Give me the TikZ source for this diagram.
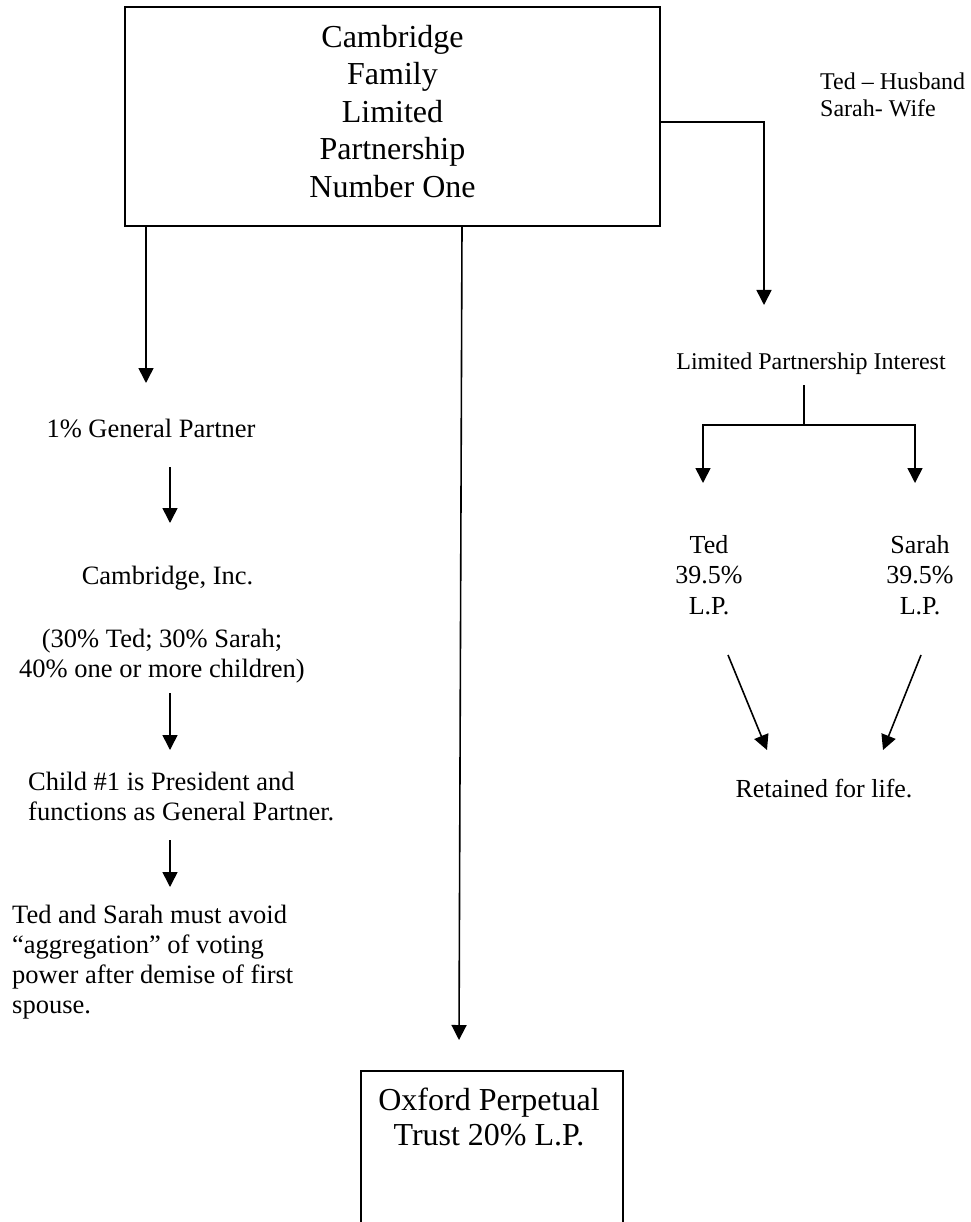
\documentclass[tikz,border=0pt]{standalone}
\usepackage{fontspec}
\setmainfont{Liberation Serif}
\usetikzlibrary{arrows.meta}
\begin{document}
\begin{tikzpicture}[x=1pt,y=-1pt,
  box/.style={draw, line width=1.6pt, inner sep=0pt},
  ln/.style={line width=1.6pt},
  arr/.style={line width=1.6pt, -{Triangle[length=15pt,width=15pt]}},
  big/.style={font=\fontsize{32}{37.5}\selectfont, align=center, inner sep=0pt},
  bigb/.style={font=\fontsize{32}{34.5}\selectfont, align=center, inner sep=0pt},
  med/.style={font=\fontsize{26.5}{30}\selectfont, inner sep=0pt},
  sml/.style={font=\fontsize{24}{26.5}\selectfont, inner sep=0pt}]
\useasboundingbox (0,0) rectangle (970,1222);
\fill[white] (0,0) rectangle (970,1222);

% main box
\node[box, minimum width=535pt, minimum height=219pt] (cflp) at (392.5,116.5) {};
\node[big, anchor=north] (cflpt) at (392.5,25) {Cambridge\\Family\\Limited\\Partnership\\Number One};

% legend
\node[sml, align=left, anchor=north west] (legend) at (820,73) {Ted -- Husband\\Sarah- Wife};

% left column
\node[med, anchor=base] (gp) at (151,437) {1\% General Partner};
\node[med, anchor=base] (inc) at (167.5,584) {Cambridge, Inc.};
\node[med, align=center, anchor=north] (own) at (162,628.6) {(30\% Ted; 30\% Sarah;\\40\% one or more children)};
\node[med, align=left, anchor=north west] (child) at (28,772) {Child \#1 is President and\\functions as General Partner.};
\node[med, align=left, anchor=north west] (avoid) at (12,905) {Ted and Sarah must avoid\\``aggregation'' of voting\\power after demise of first\\spouse.};

% right column
\node[sml, anchor=base] (lpi) at (811,369) {Limited Partnership Interest};
\node[med, align=center, anchor=north, font=\fontsize{26}{30.5}\selectfont] (ted) at (709,535) {Ted\\39.5\%\\L.P.};
\node[med, align=center, anchor=north, font=\fontsize{26}{30.5}\selectfont] (sarah) at (920,535) {Sarah\\39.5\%\\L.P.};
\node[med, anchor=base, font=\fontsize{26}{30}\selectfont] (ret) at (824,797) {Retained for life.};

% bottom box
\node[box, minimum width=262pt, minimum height=200pt, anchor=north west] (opt) at (360,1070) {};
\node[bigb, anchor=north] (optt) at (489,1088) {Oxford Perpetual\\Trust 20\% L.P.};

% connector coordinates
\coordinate (c1s) at (146,226);
\coordinate (c1e) at (146,383);
\coordinate (c2s) at (170,467);
\coordinate (c2e) at (170,523);
\coordinate (c3s) at (170,693);
\coordinate (c3e) at (170,750);
\coordinate (c4s) at (170,840);
\coordinate (c4e) at (170,887);
\coordinate (ms) at (462,226);
\coordinate (me) at (459,1040);
\coordinate (rs) at (660,122);
\coordinate (re) at (764,305);
\coordinate (ls) at (804,385);
\coordinate (lj) at (804,425);
\coordinate (lt) at (703,483);
\coordinate (lsr) at (915,483);
\coordinate (dts) at (728,655);
\coordinate (dte) at (767,750);
\coordinate (dss) at (921,655);
\coordinate (dse) at (883,750);

% connectors
\draw[arr] (c1s) -- (c1e);
\draw[arr] (c2s) -- (c2e);
\draw[arr] (c3s) -- (c3e);
\draw[arr] (c4s) -- (c4e);
\draw[arr] (ms) -- (me);
\draw[arr] (rs) -| (re);
\draw[ln] (ls) -- (lj);
\draw[arr] (lj) -| (lt);
\draw[arr] (lj) -| (lsr);
\draw[arr] (dts) -- (dte);
\draw[arr] (dss) -- (dse);
\end{tikzpicture}
\end{document}
